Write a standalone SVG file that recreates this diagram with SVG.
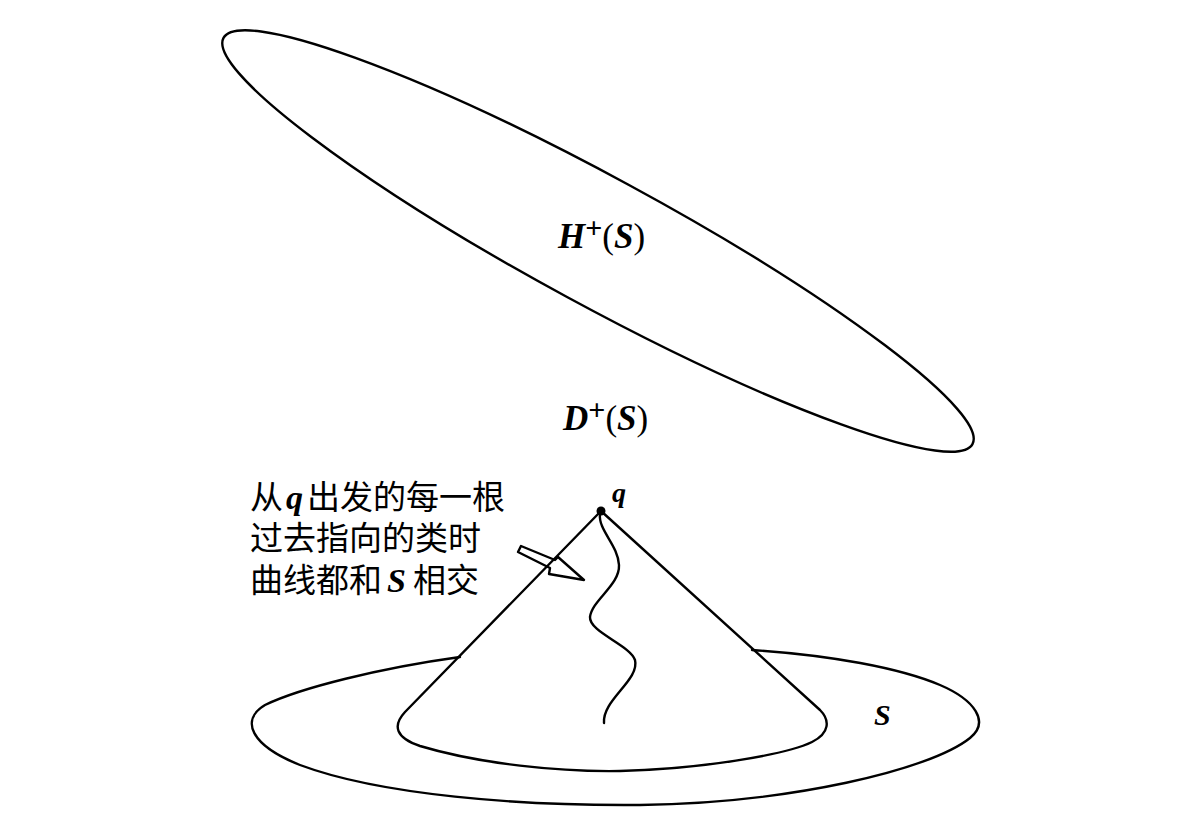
<svg xmlns="http://www.w3.org/2000/svg" width="1196" height="829" viewBox="0 0 1196 829">
<style>
.ln{fill:none;stroke:#000;stroke-width:2.4;stroke-linejoin:round;stroke-linecap:round}
.m{font-family:"Liberation Serif","Times New Roman",serif;fill:#000}
.it{font-style:italic}
.b{font-weight:bold}
.cjk{font-family:"Noto Sans CJK SC","Noto Sans CJK TC",sans-serif;font-size:33px;fill:#000}
</style>
<rect width="1196" height="829" fill="#fff"/>
<g id="H-plus-region">
<ellipse class="ln" cx="598" cy="241" rx="426" ry="64" transform="rotate(28.47 598 241)"/>
<text class="m" x="558" y="248" font-size="35"><tspan class="it b">H</tspan><tspan class="b" font-size="30" dy="-10">+</tspan><tspan dy="10">(</tspan><tspan class="it b">S</tspan>)</text>
</g>
<g id="D-plus-label">
<text class="m" x="563" y="430" font-size="35"><tspan class="it b">D</tspan><tspan class="b" font-size="30" dy="-10">+</tspan><tspan dy="10">(</tspan><tspan class="it b">S</tspan>)</text>
</g>
<g id="surface-S">
<path class="ln" d="M460,657 C380,668 300,688 265,705 C240,720 250,745 300,765 C380,795 520,806 640,805 C790,803 930,770 970,738 C990,722 975,700 940,685 C900,668 830,655 752,650"/>
<text class="m it b" x="874" y="725" font-size="30">S</text>
</g>
<g id="cone">
<path class="ln" d="M601,511 L405,712 C392,726 396,738 420,746 C480,764 560,772 620,771 C700,769 785,755 812,742 C830,733 830,720 820,710 Z"/>
<circle cx="601" cy="511" r="4.5" fill="#000"/>
<text class="m it b" x="612" y="502" font-size="28">q</text>
</g>
<g id="timelike-curve">
<path class="ln" d="M600,514 C598,530 618,545 619,565 C620,585 592,600 590,617 C589,632 630,645 635,660 C640,680 602,700 604,723"/>
</g>
<g id="connectors">
<path class="ln" stroke-width="1.6" d="M518,552 L521,546 L555,560 L558,557 L584,580 L549,574 L550,568 L518,552 Z"/>
</g>
<g id="annotation">
<text class="cjk" x="250" y="509">从<tspan class="m it b" font-size="34" dx="3">q</tspan><tspan dx="4">出发的每一根</tspan></text>
<text class="cjk" x="250" y="550">过去指向的类时</text>
<text class="cjk" x="250" y="592">曲线都和<tspan class="m it b" font-size="34" dx="5">S</tspan><tspan dx="7">相交</tspan></text>
</g>
</svg>
